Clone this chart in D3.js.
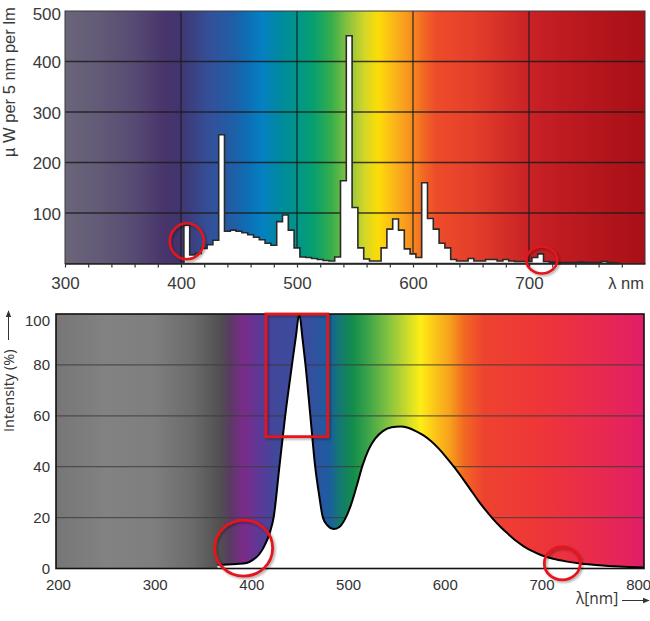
<!DOCTYPE html>
<html>
<head>
<meta charset="utf-8">
<script src="https://cdn.jsdelivr.net/npm/d3@7"></script>
<style>
  body { margin: 0; background: #fff; }
  svg { display: block; }
</style>
</head>
<body>
<div id="chart"></div>
<script>
// --- top: fluorescent lamp, 5 nm bins (centre wavelength, µW per 5 nm per lm)
const topWl = [405, 410, 415, 420, 425, 430, 435, 440, 445, 450, 455, 460, 465, 470, 475, 480,
  485, 490, 495, 500, 505, 510, 515, 520, 525, 530, 535, 540, 545, 550, 555, 560, 565, 570,
  575, 580, 585, 590, 595, 600, 605, 610, 615, 620, 625, 630, 635, 640, 645, 650, 655, 660,
  665, 670, 675, 680, 685, 690, 695, 700, 705, 710, 715, 720, 725, 730, 735, 740, 745, 750,
  755, 760, 765, 770, 775];
const topVal = [76, 17, 20, 30, 37, 46, 255, 64, 66, 64, 61, 57, 52, 47, 40, 36,
  83, 96, 66, 31, 13, 12, 10, 8, 6, 5, 13, 164, 451, 111, 31, 9, 5, 5,
  31, 68, 88, 66, 29, 19, 12, 160, 89, 68, 40, 31, 8, 5, 5, 10, 5, 5,
  8, 8, 5, 8, 5, 4, 4, 4, 12, 19, 4, 3, 2, 2, 2, 2, 3, 2,
  2, 2, 4, 2, 1];
const topXLabels = [300, 400, 500, 600, 700];
const topYTicks = [100, 200, 300, 400, 500];
const topVGrid = [400, 500, 600, 700];

// --- bottom: white LED, relative intensity (%)
const botWl = [365, 375, 385, 395, 402, 408, 413, 419, 423, 429, 435, 442, 446, 449.5, 453, 456,
  461, 466, 470, 474, 479, 485, 491, 497, 503, 509, 515, 521, 528, 536, 545, 554, 562, 570,
  578, 586, 594, 602, 610, 618, 626, 634, 642, 650, 658, 666, 674, 682, 690, 700, 712, 725,
  740, 760, 780, 806];
const botVal = [1.5, 1.6, 1.8, 2.2, 3.5, 5.5, 8.5, 14, 20, 40, 60, 80, 91, 100, 90, 80,
  60, 40, 29, 20, 16.8, 15.5, 16.3, 19.5, 25, 32.5, 40.5, 46.5, 51, 54, 55.5, 55.8, 55.3, 54,
  52.3, 50, 47, 43.5, 39.7, 35.6, 31.3, 27, 23, 19.4, 16.2, 13.4, 10.8, 8.6, 6.9, 5.2, 3.8, 2.8,
  2, 1.3, 0.8, 0.4];
const botXLabels = [200, 300, 400, 500, 600, 700, 800];
const botYTicks = [0, 20, 40, 60, 80, 100];
const botGrid = [20, 40, 60, 80];

// spectrum background colours
const topStopWl = [300, 330, 360, 385, 398, 408, 425, 445, 460, 470, 485, 500, 515, 530, 545,
  558, 570, 583, 597, 608, 620, 650, 700, 760, 800];
const topStopCol = ['#6b6579', '#625a77', '#574a73', '#48356c', '#42346e', '#3b3f7e', '#33509a',
  '#1f5ea6', '#0a72b8', '#0580c3', '#00899f', '#00958a', '#07a06e', '#38ae4b', '#8ec33e',
  '#d2d629', '#fcdd06', '#fbb81a', '#f7931e', '#f26b24', '#ee4b2b', '#e4402a', '#c92126',
  '#b3161c', '#a90f18'];
const botStopWl = [198, 250, 300, 340, 368, 378, 392, 410, 425, 455, 470, 480, 492, 505, 520,
  543, 560, 575, 590, 605, 620, 640, 700, 760, 806];
const botStopCol = ['#767676', '#828282', '#7e7e7e', '#6a6a6a', '#505050', '#5a3a64', '#7b2b8a',
  '#593a97', '#40489b', '#3c4c9d', '#2a55a0', '#1b5da0', '#137a70', '#138c4c', '#3aa349',
  '#88c440', '#c8d92c', '#fdee14', '#fbc41a', '#f7a11c', '#f26822', '#ee4330', '#ee3538',
  '#e82a4f', '#e11d67'];

const W = 650, H = 621;
const svg = d3.select('#chart').append('svg').attr('width', W).attr('height', H);
const defs = svg.append('defs');

const shadow = defs.append('filter').attr('id', 'sh')
  .attr('x', '-20%').attr('y', '-20%').attr('width', '150%').attr('height', '150%');
shadow.append('feDropShadow').attr('dx', 1.5).attr('dy', 1.5).attr('stdDeviation', 1.2)
  .attr('flood-color', '#000').attr('flood-opacity', 0.35);

function gradient(id, x, wl, col) {
  const [d0, d1] = x.domain();
  const g = defs.append('linearGradient').attr('id', id)
    .attr('x1', '0%').attr('x2', '100%').attr('y1', 0).attr('y2', 0);
  wl.forEach((w, i) => {
    g.append('stop').attr('offset', ((w - d0) / (d1 - d0) * 100) + '%').attr('stop-color', col[i]);
  });
}

// ================= top chart =================
const xT = d3.scaleLinear().domain([300, 800]).range([65, 645]);
const yT = d3.scaleLinear().domain([0, 500]).range([263.5, 11]);
gradient('gradTop', xT, topStopWl, topStopCol);

const gTop = svg.append('g').attr('font-family', '"Liberation Sans", Arial, sans-serif');
gTop.append('rect')
  .attr('x', xT(300)).attr('y', yT(500))
  .attr('width', xT(800) - xT(300)).attr('height', yT(0) - yT(500))
  .attr('fill', 'url(#gradTop)');

gTop.selectAll('.hg').data(topYTicks.filter(d => d < 500)).enter().append('line')
  .attr('x1', xT(300)).attr('x2', xT(800))
  .attr('y1', d => yT(d)).attr('y2', d => yT(d))
  .attr('stroke', '#1c1c1c').attr('stroke-opacity', 0.85).attr('stroke-width', 1.3);
gTop.selectAll('.vg').data(topVGrid).enter().append('line')
  .attr('x1', d => xT(d)).attr('x2', d => xT(d))
  .attr('y1', yT(500)).attr('y2', yT(0))
  .attr('stroke', '#1c1c1c').attr('stroke-opacity', 0.85).attr('stroke-width', 1.3);

// stepped histogram
const bins = topWl.map((w, i) => ({ x: w - 2.5, v: topVal[i] }));
bins.push({ x: topWl[topWl.length - 1] + 2.5, v: topVal[topVal.length - 1] });
const topArea = d3.area().curve(d3.curveStepAfter)
  .x(d => xT(d.x)).y0(yT(0)).y1(d => yT(d.v));
gTop.append('path').datum(bins)
  .attr('d', topArea)
  .attr('fill', '#fff')
  .attr('stroke', '#2a2a2a').attr('stroke-width', 1.6).attr('stroke-linejoin', 'miter');

gTop.append('rect')
  .attr('x', xT(300)).attr('y', yT(500))
  .attr('width', xT(800) - xT(300)).attr('height', yT(0) - yT(500))
  .attr('fill', 'none').attr('stroke', '#3a3a3a').attr('stroke-width', 1);

const axT = gTop.append('g').attr('transform', `translate(0,${yT(0)})`)
  .call(d3.axisBottom(xT).tickValues(d3.range(300, 800, 20)).tickSize(4).tickSizeOuter(0)
    .tickFormat(d => topXLabels.includes(d) ? d : ''));
axT.select('.domain').attr('stroke', '#222').attr('stroke-width', 1.4);
axT.selectAll('.tick line').attr('stroke', '#333').attr('stroke-width', 1.2);
axT.selectAll('.tick text').attr('y', 13).attr('font-size', 17).attr('fill', '#3a3a3a')
  .attr('font-family', null);

const ayT = gTop.append('g').attr('transform', `translate(${xT(300)},0)`)
  .call(d3.axisLeft(yT).tickValues(topYTicks).tickSize(0).tickPadding(4));
ayT.select('.domain').remove();
ayT.selectAll('.tick text').attr('font-size', 17).attr('fill', '#3a3a3a')
  .attr('font-family', null).attr('dy', d => d === 500 ? '0.52em' : '0.36em');

gTop.append('text').attr('x', 644).attr('y', 289).attr('text-anchor', 'end')
  .attr('font-size', 16.5).attr('fill', '#3a3a3a').text('λ nm');
gTop.append('text')
  .attr('transform', 'translate(15,157) rotate(-90)')
  .attr('font-size', 16.5).attr('fill', '#3a3a3a').text('µ W per 5 nm per lm');

// annotations (top)
const redT = gTop.append('g').attr('fill', 'none').attr('stroke', '#e3161d')
  .attr('stroke-width', 2.6).attr('filter', 'url(#sh)');
redT.append('ellipse').attr('cx', xT(405)).attr('cy', yT(44)).attr('rx', 17).attr('ry', 18);
redT.append('ellipse').attr('cx', xT(711)).attr('cy', yT(7)).attr('rx', 15.5).attr('ry', 13.5);

// ================= bottom chart =================
const xB = d3.scaleLinear().domain([198, 806]).range([56, 644]);
const yB = d3.scaleLinear().domain([0, 100]).range([568.5, 314]);
gradient('gradBot', xB, botStopWl, botStopCol);

const gBot = svg.append('g').attr('font-family', '"Open Sans", "Noto Sans", sans-serif');
gBot.append('rect')
  .attr('x', xB(198)).attr('y', yB(100))
  .attr('width', xB(806) - xB(198)).attr('height', yB(0) - yB(100))
  .attr('fill', 'url(#gradBot)');

gBot.selectAll('.hg').data(botGrid).enter().append('line')
  .attr('x1', xB(198)).attr('x2', xB(806))
  .attr('y1', d => yB(d)).attr('y2', d => yB(d))
  .attr('stroke', '#3c3c3c').attr('stroke-opacity', 0.75).attr('stroke-width', 1.2);

const led = botWl.map((w, i) => ({ x: w, v: botVal[i] }));
gBot.append('path').datum(led)
  .attr('d', d3.area().curve(d3.curveMonotoneX).x(d => xB(d.x)).y0(yB(0)).y1(d => yB(d.v)))
  .attr('fill', '#fff');
gBot.append('path').datum(led)
  .attr('d', d3.line().curve(d3.curveMonotoneX).x(d => xB(d.x)).y(d => yB(d.v)))
  .attr('fill', 'none').attr('stroke', '#000').attr('stroke-width', 2);

gBot.append('rect')
  .attr('x', xB(198)).attr('y', yB(100))
  .attr('width', xB(806) - xB(198)).attr('height', yB(0) - yB(100))
  .attr('fill', 'none').attr('stroke', '#111').attr('stroke-width', 1.6);

const axB = gBot.append('g').attr('transform', `translate(0,${yB(0)})`)
  .call(d3.axisBottom(xB).tickValues(botXLabels).tickSize(0).tickPadding(11));
axB.select('.domain').remove();
axB.selectAll('.tick text').attr('font-size', 15).attr('fill', '#333').attr('font-family', null);

const ayB = gBot.append('g').attr('transform', `translate(${xB(198)},0)`)
  .call(d3.axisLeft(yB).tickValues(botYTicks).tickSize(0).tickPadding(6));
ayB.select('.domain').remove();
ayB.selectAll('.tick text').attr('font-size', 15).attr('fill', '#333').attr('font-family', null)
  .attr('dy', d => d === 100 ? '0.75em' : '0.32em');

defs.append('marker').attr('id', 'arr').attr('viewBox', '0 0 10 10')
  .attr('refX', 9).attr('refY', 5).attr('markerWidth', 7).attr('markerHeight', 7)
  .attr('markerUnits', 'userSpaceOnUse').attr('orient', 'auto')
  .append('path').attr('d', 'M0,1 L10,5 L0,9 Z').attr('fill', '#333');

gBot.append('text').attr('x', 576).attr('y', 604)
  .attr('font-size', 15.5).attr('fill', '#333').text('λ[nm]');
gBot.append('line').attr('x1', 622).attr('x2', 649).attr('y1', 600.5).attr('y2', 600.5)
  .attr('stroke', '#333').attr('stroke-width', 1).attr('marker-end', 'url(#arr)');

gBot.append('text')
  .attr('transform', 'translate(13.5,432) rotate(-90)')
  .attr('font-size', 14.5).attr('fill', '#333').text('Intensity (%)');
gBot.append('line').attr('x1', 8.5).attr('x2', 8.5).attr('y1', 340).attr('y2', 311)
  .attr('stroke', '#333').attr('stroke-width', 1).attr('marker-end', 'url(#arr)');

// annotations (bottom)
const redB = gBot.append('g').attr('fill', 'none').attr('stroke', '#e3161d')
  .attr('stroke-width', 2.8).attr('filter', 'url(#sh)');
redB.append('ellipse').attr('cx', xB(392)).attr('cy', yB(8)).attr('rx', 29).attr('ry', 28);
redB.append('ellipse').attr('cx', xB(721.5)).attr('cy', yB(2)).attr('rx', 18).attr('ry', 16.5);
redB.append('rect')
  .attr('x', xB(415)).attr('y', yB(100))
  .attr('width', xB(479) - xB(415)).attr('height', yB(51.8) - yB(100));
</script>
</body>
</html>
